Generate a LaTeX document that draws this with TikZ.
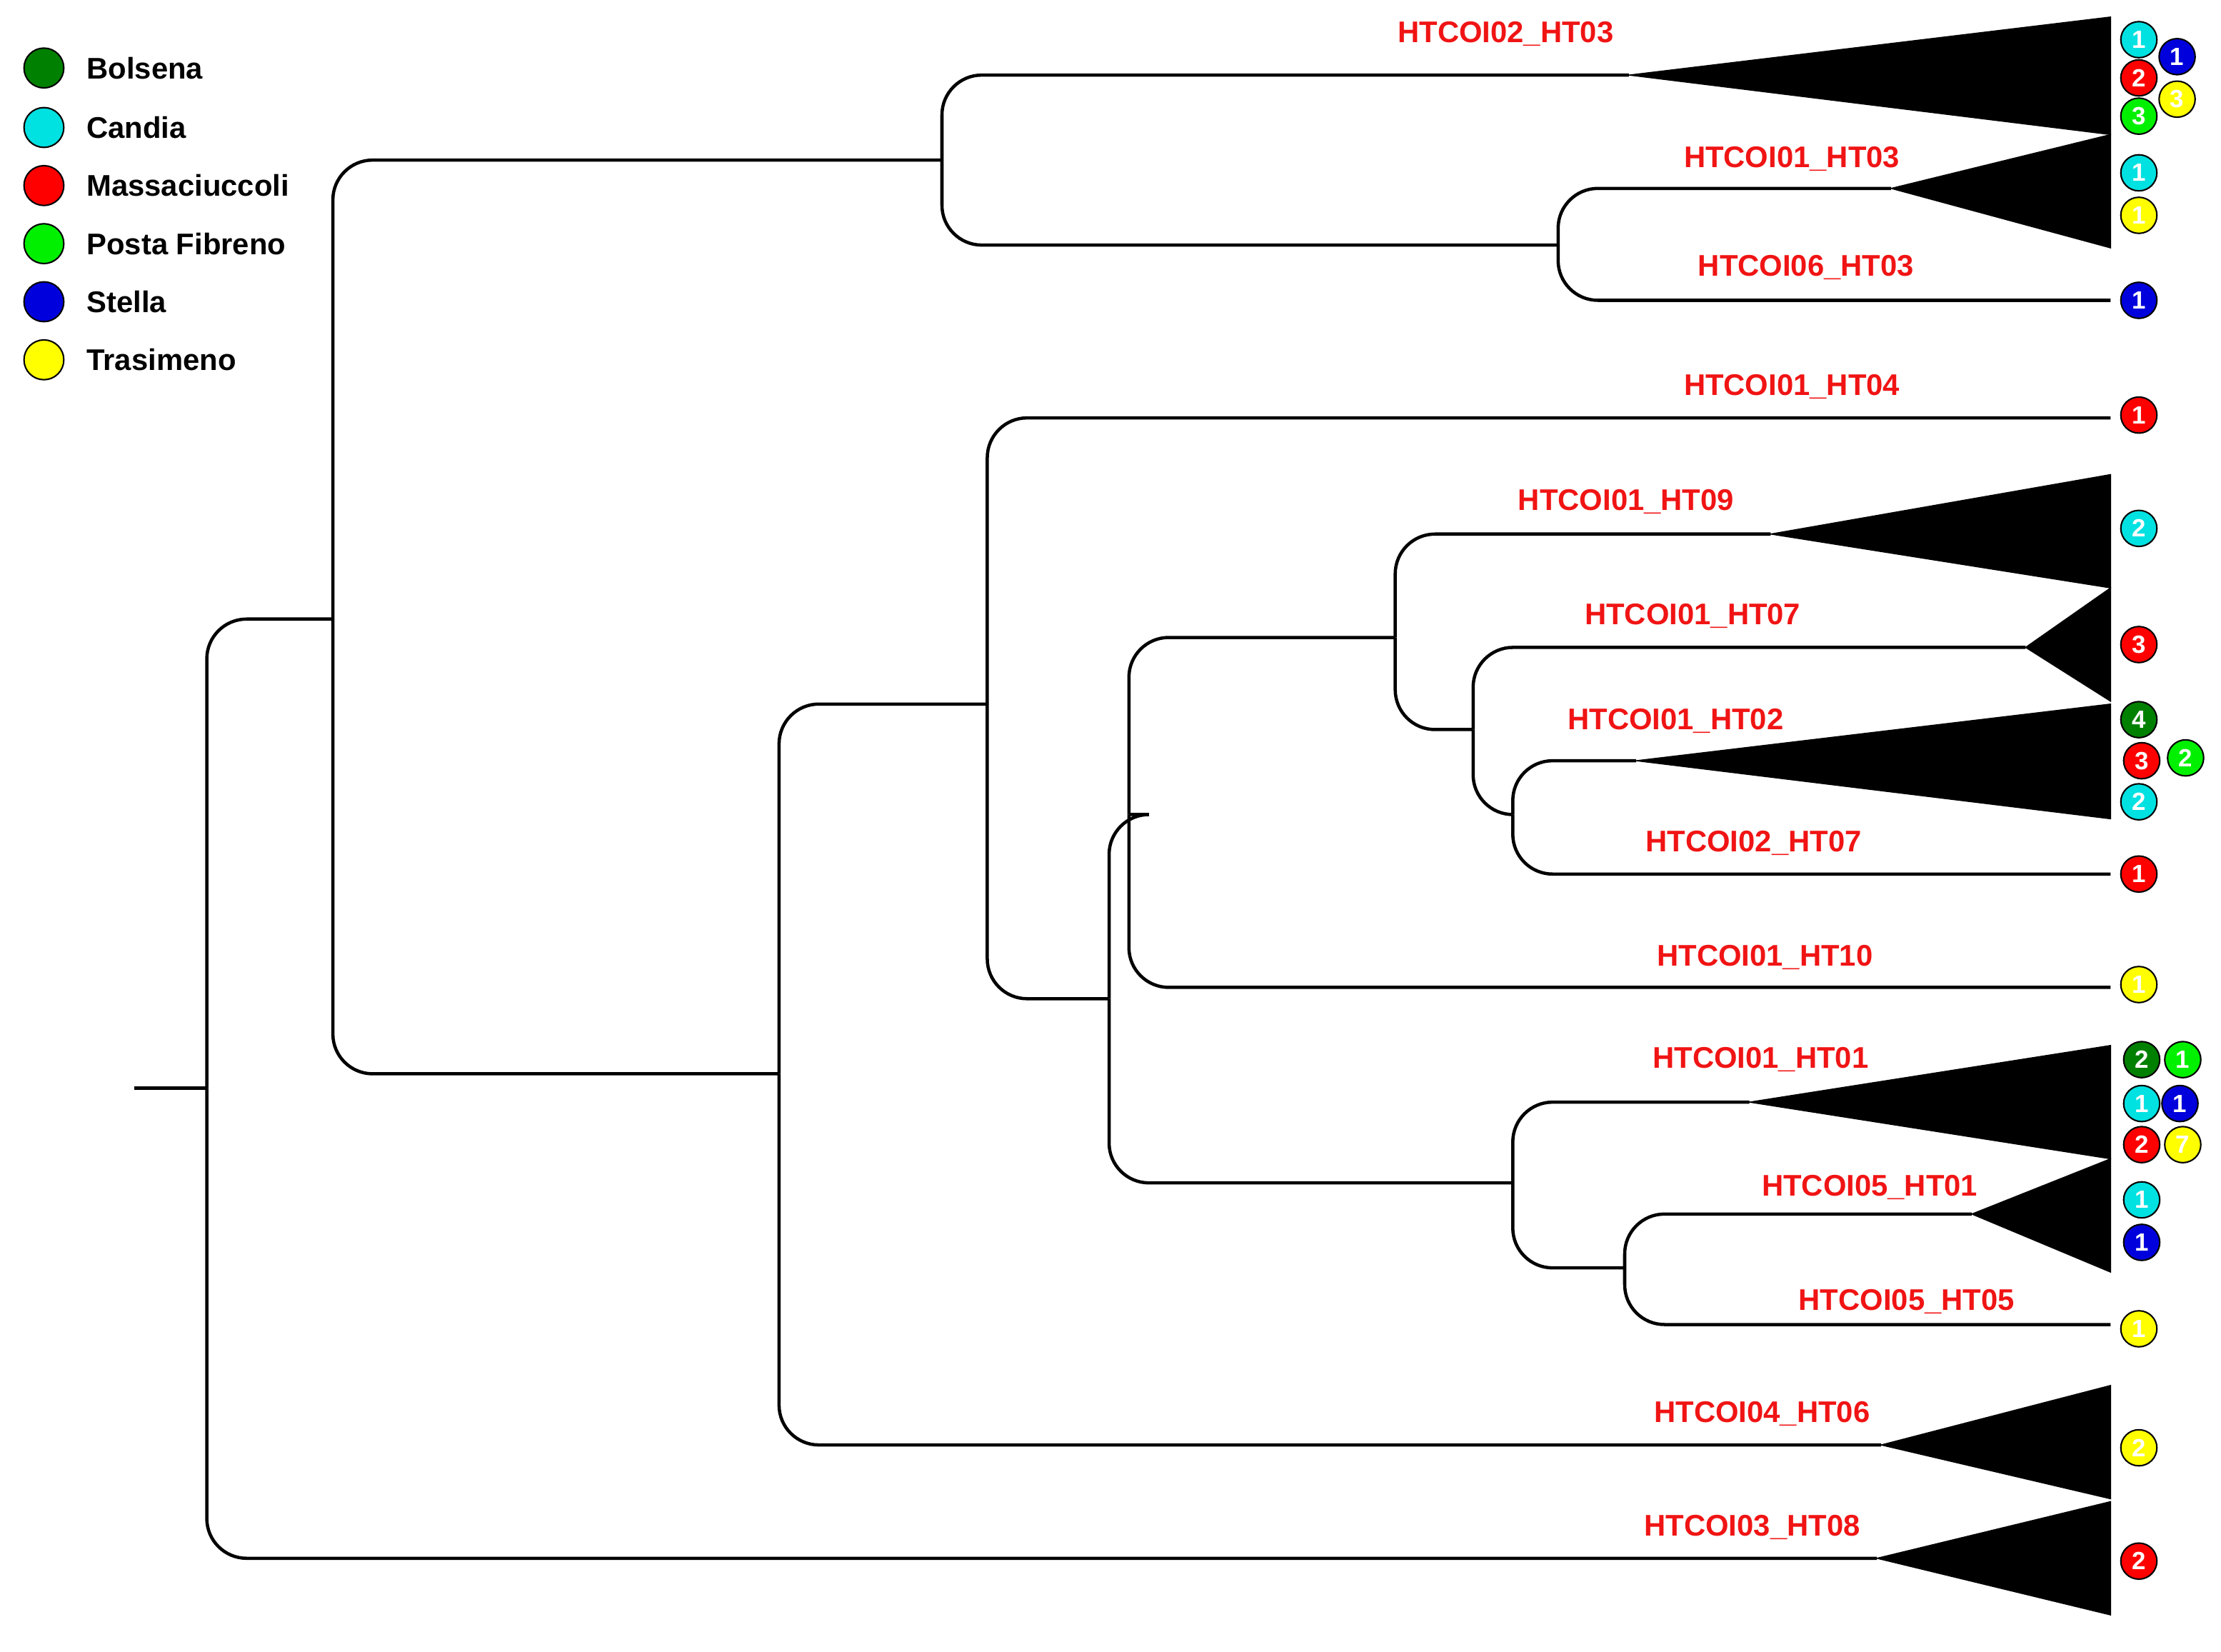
\documentclass[tikz,border=0pt]{standalone}
\usepackage{fontspec}
\setmainfont{Liberation Sans}
\definecolor{cB}{RGB}{0,128,0}
\definecolor{cC}{RGB}{0,225,225}
\definecolor{cM}{RGB}{255,0,0}
\definecolor{cP}{RGB}{0,240,0}
\definecolor{cS}{RGB}{0,0,220}
\definecolor{cT}{RGB}{255,255,0}
\definecolor{lab}{RGB}{240,20,20}
\begin{document}
\begin{tikzpicture}[x=0.02cm,y=-0.02cm,
 br/.style={line width=1.3pt,rounded corners=16pt},
 tri/.style={fill=black,draw=black},
 lb/.style={text=lab,font=\fontsize{12}{14}\selectfont\bfseries},
 dot/.style={circle,draw=black,line width=0.6pt,minimum size=14.5pt,inner sep=0pt,font=\fontsize{10}{11}\selectfont\bfseries},
 leg/.style={font=\fontsize{12}{14}\selectfont\bfseries,anchor=west}]
\useasboundingbox (0,0) rectangle (1568,1166);
% internal nodes
\coordinate (R) at (95,768);
\coordinate (A) at (146,768);
\coordinate (B) at (235,437);
\coordinate (C) at (665,113);
\coordinate (D) at (1100,173);
\coordinate (E) at (550,758);
\coordinate (F) at (697,497);
\coordinate (G) at (783,705);
\coordinate (H) at (797,575);
\coordinate (I) at (985,450);
\coordinate (J) at (1040,515);
\coordinate (K) at (1068,575);
\coordinate (L) at (1068,835);
\coordinate (M) at (1147,895);
% tips
\coordinate (t1) at (1150,53);
\coordinate (t2) at (1335,133);
\coordinate (t3) at (1490,212);
\coordinate (t4) at (1490,295);
\coordinate (t5) at (1250,377);
\coordinate (t6) at (1430,457);
\coordinate (t7) at (1155,537);
\coordinate (t8) at (1490,617);
\coordinate (t9) at (1490,697);
\coordinate (t10) at (1235,778);
\coordinate (t11) at (1392,857);
\coordinate (t12) at (1490,935);
\coordinate (t13) at (1328,1020);
\coordinate (t14) at (1325,1100);
% triangles
\fill[tri] (t1) -- (1490,12) -- (1490,95) -- cycle;
\fill[tri] (t2) -- (1490,95) -- (1490,175) -- cycle;
\fill[tri] (t5) -- (1490,335) -- (1490,415) -- cycle;
\fill[tri] (t6) -- (1490,415) -- (1490,495) -- cycle;
\fill[tri] (t7) -- (1490,497) -- (1490,578) -- cycle;
\fill[tri] (t10) -- (1490,738) -- (1490,818) -- cycle;
\fill[tri] (t11) -- (1490,818) -- (1490,898) -- cycle;
\fill[tri] (t13) -- (1490,978) -- (1490,1058) -- cycle;
\fill[tri] (t14) -- (1490,1060) -- (1490,1140) -- cycle;
% branches
\draw[line width=1.3pt] (R) -- (A);
\draw[br] (A) |- (B); \draw[br] (A) |- (t14);
\draw[br] (B) |- (C); \draw[br] (B) |- (E);
\draw[br] (C) |- (t1); \draw[br] (C) |- (D);
\draw[br] (D) |- (t2); \draw[br] (D) |- (t3);
\draw[br] (E) |- (F); \draw[br] (E) |- (t13);
\draw[br] (F) |- (t4); \draw[br] (F) |- (G);
\draw[br] (G) |- (H); \draw[br] (G) |- (L);
\draw[br] (H) |- (I); \draw[br] (H) |- (t9);
\draw[br] (I) |- (t5); \draw[br] (I) |- (J);
\draw[br] (J) |- (t6); \draw[br] (J) |- (K);
\draw[br] (K) |- (t7); \draw[br] (K) |- (t8);
\draw[br] (L) |- (t10); \draw[br] (L) |- (M);
\draw[br] (M) |- (t11); \draw[br] (M) |- (t12);
% labels
\node[lb] (l1) at (1063,24) {HTCOI02\_HT03};
\node[lb] (l2) at (1265,112) {HTCOI01\_HT03};
\node[lb] (l3) at (1275,189) {HTCOI06\_HT03};
\node[lb] (l4) at (1265,273) {HTCOI01\_HT04};
\node[lb] (l5) at (1148,354) {HTCOI01\_HT09};
\node[lb] (l6) at (1195,435) {HTCOI01\_HT07};
\node[lb] (l7) at (1183,509) {HTCOI01\_HT02};
\node[lb] (l8) at (1238,595) {HTCOI02\_HT07};
\node[lb] (l9) at (1246,676) {HTCOI01\_HT10};
\node[lb] (l10) at (1243,748) {HTCOI01\_HT01};
\node[lb] (l11) at (1320,838) {HTCOI05\_HT01};
\node[lb] (l12) at (1346,919) {HTCOI05\_HT05};
\node[lb] (l13) at (1244,998) {HTCOI04\_HT06};
\node[lb] (l14) at (1237,1078) {HTCOI03\_HT08};
% count circles
\foreach \x/\y/\c/\n [count=\i] in {1510/28/cC/1,1537/40/cS/1,1510/55/cM/2,1537/70/cT/3,1510/82/cP/3,1510/122/cC/1,1510/152/cT/1,1510/212/cS/1,1510/293/cM/1,1510/373/cC/2,1510/455/cM/3,1510/508/cB/4,1512/537/cM/3,1543/535/cP/2,1510/566/cC/2,1510/617/cM/1,1510/695/cT/1,1512/748/cB/2,1541/748/cP/1,1512/779/cC/1,1539/779/cS/1,1512/808/cM/2,1541/808/cT/7,1512/847/cC/1,1512/877/cS/1,1510/938/cT/1,1510/1022/cT/2,1510/1102/cM/2}{
 \ifx\c cT \def\tc{black}\else\ifx\c cC \def\tc{black}\else\ifx\c cP \def\tc{black}\else\def\tc{white}\fi\fi\fi
 \node[dot,fill=\c,text=\tc] (n\i) at (\x,\y) {\n};
}
% legend
\foreach \y/\c/\t [count=\i] in {48/cB/Bolsena,90/cC/Candia,131/cM/Massaciuccoli,172/cP/Posta Fibreno,213/cS/Stella,254/cT/Trasimeno}{
 \node[circle,draw=black,line width=0.6pt,fill=\c,minimum size=16pt,inner sep=0pt] (g\i) at (31,\y) {};
 \node[leg] (gt\i) at (55,\y) {\t};
}
\end{tikzpicture}
\end{document}
